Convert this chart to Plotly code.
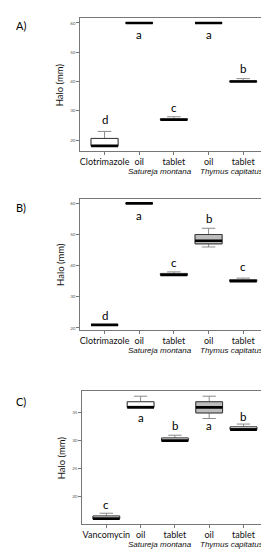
import plotly.graph_objects as go

# ---------------- data ----------------
positions = [1, 2, 3, 4, 5]
labels_ab = ["Clotrimazole", "oil", "tablet", "oil", "tablet"]
labels_c = ["Vancomycin", "oil", "tablet", "oil", "tablet"]
species = ["Satureja montana", "Thymus capitatus"]
species_center_px = [152, 223]

a_lower = [18, 60, 27, 60, 40]
a_q1 = [18, 60, 27, 60, 40]
a_median = [18, 60, 27, 60, 40]
a_q3 = [20.6, 60, 27.3, 60, 40.2]
a_upper = [23, 60, 28, 60, 41]
a_letters = ["d", "a", "c", "a", "b"]
a_letter_y = [27, 56, 31, 56, 44.3]
a_ticks = [20, 30, 40, 50, 60]

b_lower = [21, 60, 37, 46, 35]
b_q1 = [21, 60, 37, 47, 35]
b_median = [21, 60, 37, 48, 35]
b_q3 = [21, 60, 37.5, 50, 35.5]
b_upper = [21, 60, 38, 52, 36]
b_letters = ["d", "a", "c", "b", "c"]
b_letter_y = [24, 56, 41, 55, 39.7]
b_ticks = [20, 30, 40, 50, 60]

c_lower = [16, 36, 30, 34, 32]
c_q1 = [16, 36, 30, 35, 32]
c_median = [16, 36, 30, 36, 32]
c_q3 = [16.5, 37, 30.5, 37, 32.5]
c_upper = [17, 38, 31, 38, 33]
c_letters = ["c", "a", "b", "a", "b"]
c_letter_y = [18.5, 34.2, 32.7, 32.7, 34.4]
c_ticks = [20, 25, 30, 35]

fills = ["white", "white", "white", "#bdbdbd", "white"]
panel_names = ["A)", "B)", "C)"]

# ---------------- layout geometry ----------------
W, H = 269, 550
panels = [
    dict(lo=a_lower, q1=a_q1, me=a_median, q3=a_q3, up=a_upper, let=a_letters, ly=a_letter_y,
         ticks=a_ticks, labels=labels_ab, x0=72.3, x1=259.5, top=10, bot=143, lab_y=18),
    dict(lo=b_lower, q1=b_q1, me=b_median, q3=b_q3, up=b_upper, let=b_letters, ly=b_letter_y,
         ticks=b_ticks, labels=labels_ab, x0=72.3, x1=259.5, top=190.5, bot=321.7, lab_y=199),
    dict(lo=c_lower, q1=c_q1, me=c_median, q3=c_q3, up=c_upper, let=c_letters, ly=c_letter_y,
         ticks=c_ticks, labels=labels_c, x0=74.3, x1=259.5, top=383.3, bot=515.7, lab_y=393),
]

BW = 0.78
fig = go.Figure()
annotations = []
layout_axes = {}
FONT = "Lato, 'Open Sans', Arial, sans-serif"
IFONT = "'Liberation Sans', Arial, sans-serif"

for k, p in enumerate(panels):
    sx = "" if k == 0 else str(k + 1)
    xa, ya = "x" + sx, "y" + sx
    for i, pos in enumerate(positions):
        # whiskers (grey)
        fig.add_trace(go.Box(
            x=[pos], q1=[p["q1"][i]], median=[p["me"][i]], q3=[p["q3"][i]],
            lowerfence=[p["lo"][i]], upperfence=[p["up"][i]],
            width=BW, whiskerwidth=0.5, boxpoints=False,
            line=dict(color="#8a8a8a", width=1), fillcolor=fills[i],
            xaxis=xa, yaxis=ya, showlegend=False, hoverinfo="skip"))
        # box outline (dark)
        fig.add_trace(go.Box(
            x=[pos], q1=[p["q1"][i]], median=[p["me"][i]], q3=[p["q3"][i]],
            lowerfence=[p["q1"][i]], upperfence=[p["q3"][i]],
            width=BW, whiskerwidth=0, boxpoints=False,
            line=dict(color="#3a3a3a", width=1), fillcolor=fills[i],
            xaxis=xa, yaxis=ya, showlegend=False, hoverinfo="skip"))
    # thick medians
    mx, my = [], []
    for i, pos in enumerate(positions):
        mx += [pos - BW / 2, pos + BW / 2, None]
        my += [p["me"][i], p["me"][i], None]
    fig.add_trace(go.Scatter(x=mx, y=my, mode="lines", line=dict(color="black", width=2.6),
                             xaxis=xa, yaxis=ya, showlegend=False, hoverinfo="skip"))

    lo, hi = min(p["lo"]), max(p["up"])
    pad = 0.04 * (hi - lo)
    layout_axes["xaxis" + sx] = dict(
        domain=[p["x0"] / W, p["x1"] / W], range=[0.3, 5.7], anchor=ya,
        tickmode="array", tickvals=positions, ticktext=p["labels"],
        ticks="outside", ticklen=3, tickcolor="#777", tickwidth=1, ticklabelstandoff=-1,
        tickfont=dict(family=FONT, size=9, color="#111"),
        showline=True, mirror=True, linecolor="#777", linewidth=1,
        showgrid=False, zeroline=False, fixedrange=True)
    layout_axes["yaxis" + sx] = dict(
        domain=[1 - p["bot"] / H, 1 - p["top"] / H], range=[lo - pad, hi + pad], anchor=xa,
        tickmode="array", tickvals=p["ticks"],
        ticks="outside", ticklen=3, tickcolor="#777", tickwidth=1,
        tickfont=dict(family=FONT, size=4.5, color="#555"),
        showline=True, mirror=True, linecolor="#777", linewidth=1,
        showgrid=False, zeroline=False, fixedrange=True)

    # significance letters
    for i, pos in enumerate(positions):
        annotations.append(dict(x=pos, y=p["ly"][i], xref=xa, yref=ya, text=p["let"][i],
                                showarrow=False, font=dict(family=FONT, size=11.5, color="#000")))
    # species names
    for s, cx in zip(species, species_center_px):
        annotations.append(dict(x=cx / W, y=-(20.5 / (p["bot"] - p["top"])), xref="paper",
                                yref=ya + " domain", text="<i>" + s + "</i>", showarrow=False,
                                xanchor="center", yanchor="middle",
                                font=dict(family=IFONT, size=8, color="#111")))
    # y title
    annotations.append(dict(x=(p["x0"] - 20.5) / W, y=0.5, xref="paper", yref=ya + " domain",
                            text="Halo (mm)", textangle=-90, showarrow=False,
                            xanchor="center", yanchor="middle",
                            font=dict(family=FONT, size=9.5, color="#111")))
    # panel label
    annotations.append(dict(x=13 / W, y=1 - p["lab_y"] / H, xref="paper", yref="paper",
                            text=panel_names[k], showarrow=False, xanchor="center", yanchor="middle",
                            font=dict(family=FONT, size=11, color="black")))

fig.update_layout(
    width=W, height=H, margin=dict(l=0, r=0, t=0, b=0),
    paper_bgcolor="white", plot_bgcolor="white",
    annotations=annotations, **layout_axes)

fig.write_html("out.html", config={"displayModeBar": False})
